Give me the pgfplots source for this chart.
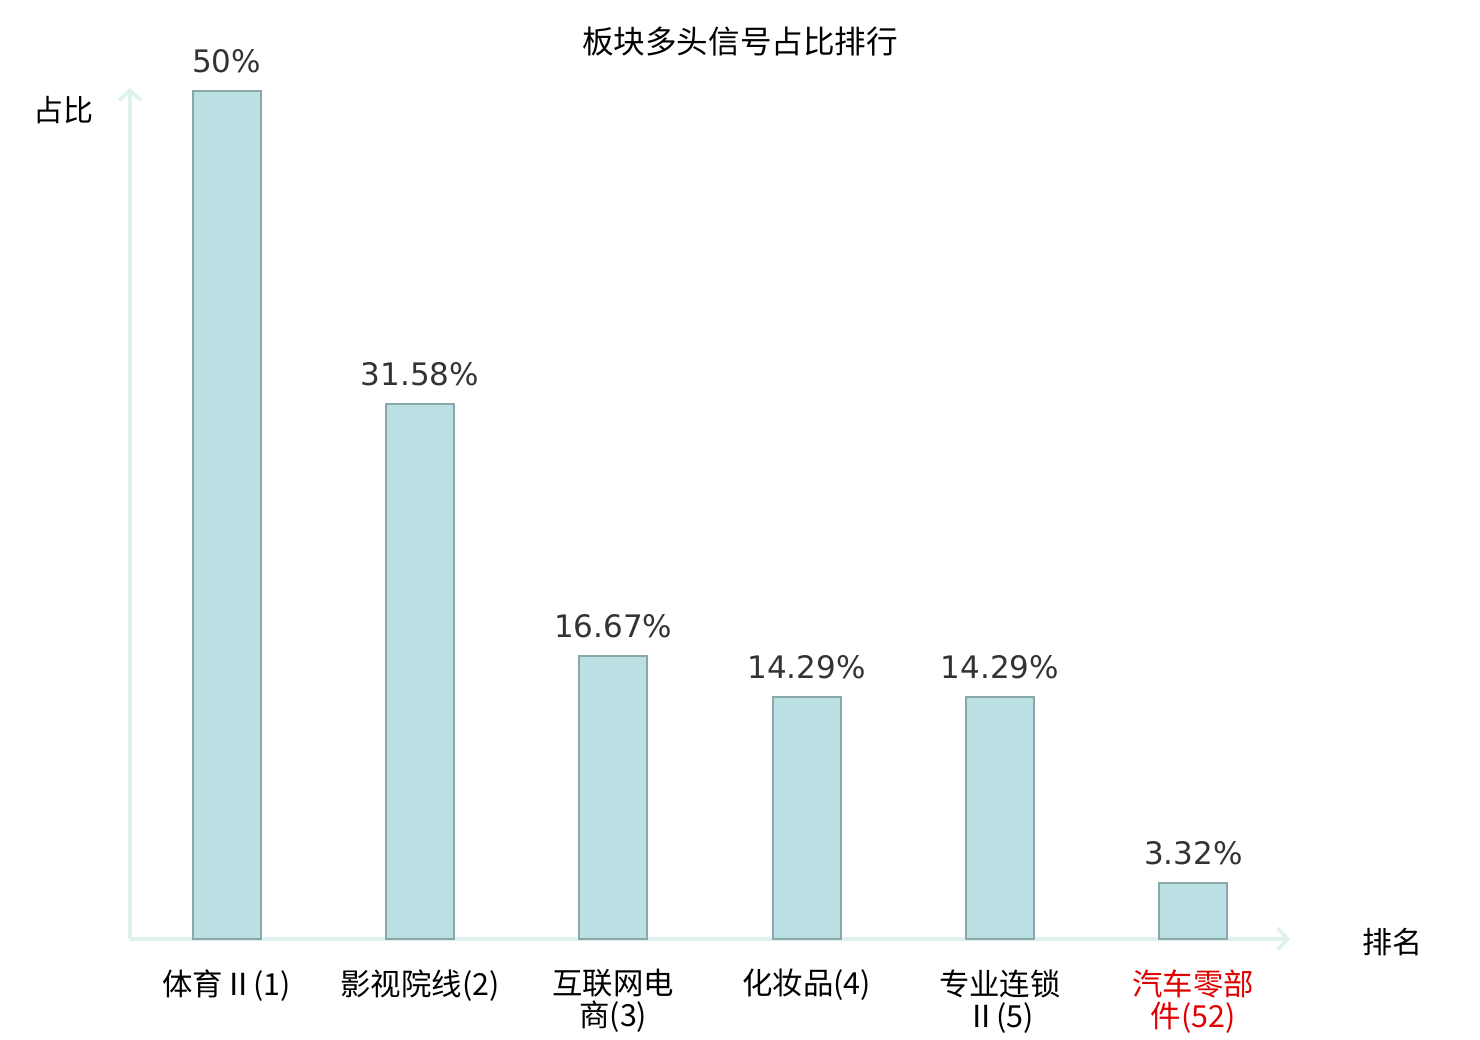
\documentclass[border=0pt]{standalone}
\usepackage{pgfplots}
\pgfplotsset{compat=1.18}
\usetikzlibrary{arrows.meta}
\usepackage{fontspec}
\setmainfont{Noto Sans CJK SC}
\newfontfamily\dejavu{DejaVu Sans}
\definecolor{barfill}{HTML}{BBE0E3}
\definecolor{bardraw}{HTML}{8BA8A8}
\definecolor{axcol}{HTML}{DDF2EF}
\definecolor{lblcol}{HTML}{333333}
\definecolor{redlbl}{HTML}{E00000}
\begin{document}
\begin{tikzpicture}[x=0.5pt,y=0.5pt]
\begin{axis}[
  at={(65pt,50.5pt)}, anchor=south west,
  scale only axis, width=580pt, height=425.5pt,
  xmin=-0.5, xmax=5.5, ymin=0, ymax=50.2,
  axis lines=left,
  axis line style={draw=axcol, line width=1.8pt, -{Straight Barb[length=5pt,width=11pt,line width=1.8pt]}},
  ytick=\empty,
  xtick={0,1,2,3,4,5},
  major tick length=0pt,
  xticklabels={体育Ⅱ(1),影视院线(2),互联网电\\商(3),化妆品(4),专业连锁\\Ⅱ(5),\textcolor{redlbl}{汽车零部}\\\textcolor{redlbl}{件(52)}},
  xticklabel style={align=center, font=\fontsize{15.2}{16}\selectfont, inner sep=0pt, anchor=north, yshift=-15pt},
  /pgf/number format/assume math mode=true,
  nodes near coords={\pgfmathprintnumber[fixed,precision=2]{\pgfplotspointmeta}\%},
  every node near coord/.append style={font=\dejavu\fontsize{15.5}{18}\selectfont, text=lblcol, inner sep=0pt, anchor=south, yshift=8.5pt},
  clip=false,
]
\addplot[ybar, bar width=34pt, fill=barfill, draw=bardraw, line width=1pt] coordinates {
  (0,50) (1,31.58) (2,16.67) (3,14.29) (4,14.29) (5,3.32)
};
\end{axis}
\node[font=\fontsize{15.8}{18}\selectfont] at (740,998) {板块多头信号占比排行};
\node[font=\fontsize{15}{18}\selectfont] at (63,930) {占比};
\node[font=\fontsize{15}{18}\selectfont] at (1392,98) {排名};
\pgfresetboundingbox
\path (0,0) rectangle (1480,1040);
\end{tikzpicture}
\end{document}
